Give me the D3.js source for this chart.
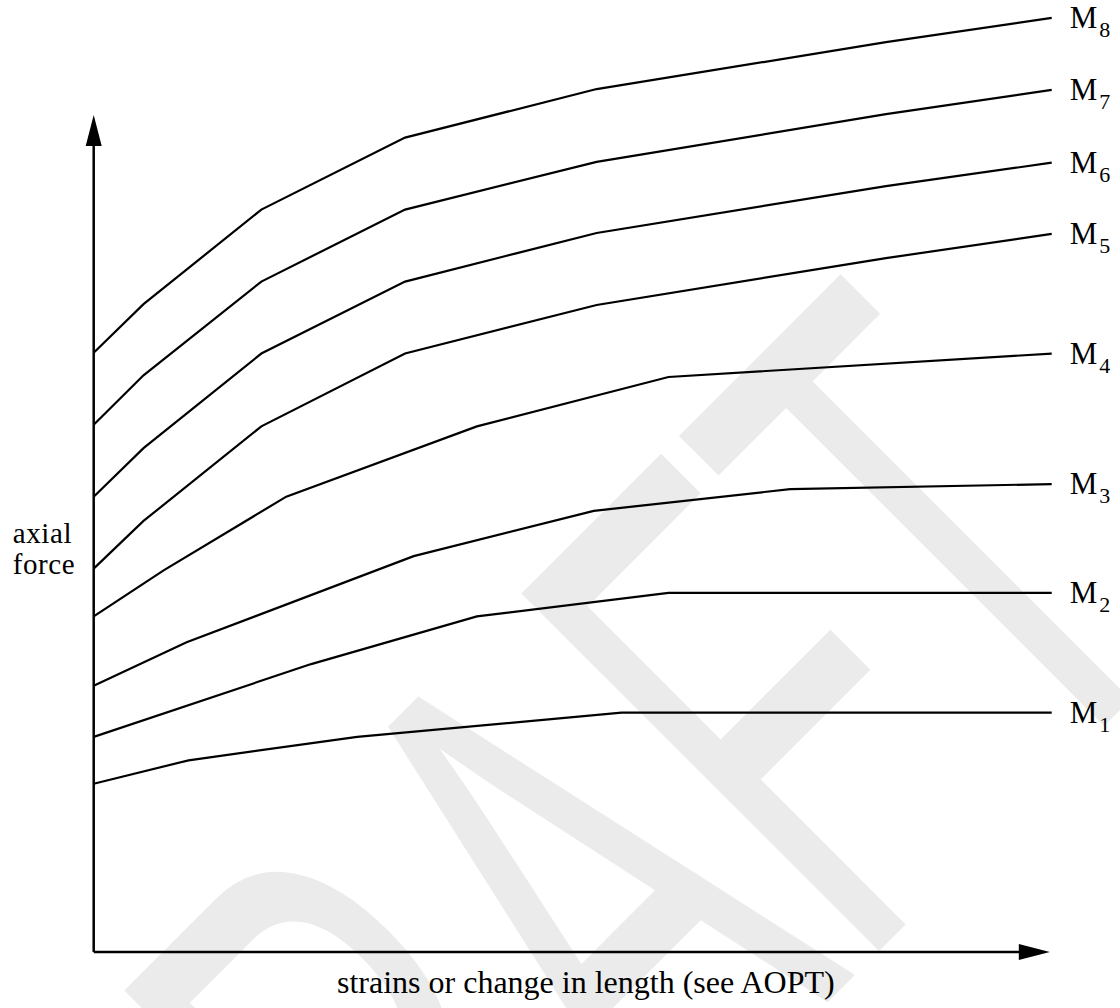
<!DOCTYPE html>
<html>
<head>
<meta charset="utf-8">
<script src="https://cdn.jsdelivr.net/npm/d3@7"></script>
<style>
  html, body { margin: 0; padding: 0; background: #ffffff; }
  svg { display: block; }
</style>
</head>
<body>
<svg id="chart" width="1120" height="1008"></svg>
<script>
// ---------- data ----------
const seriesNames = ["M1", "M2", "M3", "M4", "M5", "M6", "M7", "M8"];
const xM1 = [0, 9.9, 27.5, 55.1, 100];
const yM1 = [20.1, 22.9, 25.7, 28.6, 28.6];
const xM2 = [0, 22.7, 40.0, 60.0, 100];
const yM2 = [25.7, 34.4, 40.1, 42.9, 42.9];
const xM3 = [0, 9.7, 33.4, 52.2, 72.7, 100];
const yM3 = [31.8, 37.0, 47.3, 52.7, 55.3, 55.9];
const xM4 = [0, 7.3, 20.1, 40.0, 60.0, 100];
const yM4 = [40.1, 45.6, 54.4, 62.8, 68.7, 71.5];
const xUpper = [0, 5.2, 17.5, 32.5, 52.5, 82.7, 100];
const yM5 = [45.8, 51.5, 62.8, 71.5, 77.3, 82.9, 85.8];
const yM6 = [54.4, 60.2, 71.5, 80.1, 85.9, 91.5, 94.3];
const yM7 = [63.0, 68.9, 80.1, 88.7, 94.4, 100.1, 103.0];
const yM8 = [71.6, 77.4, 88.7, 97.3, 103.1, 108.7, 111.6];
const xAxisTitle = "strains or change in length (see AOPT)";
const yAxisTitle = ["axial", "force"];
const watermarkText = "DRAFT";

const seriesX = [xM1, xM2, xM3, xM4, xUpper, xUpper, xUpper, xUpper];
const seriesY = [yM1, yM2, yM3, yM4, yM5, yM6, yM7, yM8];

// ---------- layout ----------
const svg = d3.select("#chart");
const x0 = 93.7, x1 = 1051.7, yBase = 952, yTop = 115;
const x = d3.scaleLinear().domain([0, 100]).range([x0, x1]);
const y = d3.scaleLinear().domain([0, 100]).range([yBase, yTop]);
const serif = "'Liberation Serif', 'Times New Roman', serif";

svg.append("rect").attr("width", 1120).attr("height", 1008).attr("fill", "#ffffff");

// watermark
svg.append("text")
  .attr("transform", "translate(252,1578) rotate(-45) scale(0.55,1)")
  .attr("font-family", "'Liberation Sans', Arial, sans-serif")
  .attr("font-size", 735)
  .attr("fill", "#ebebeb")
  .text(watermarkText);

// axes
const axisG = svg.append("g");
axisG.append("line")
  .attr("x1", x(0)).attr("y1", y(0)).attr("x2", x(0)).attr("y2", y(100) + 20)
  .attr("stroke", "#000").attr("stroke-width", 2.5);
axisG.append("line")
  .attr("x1", x(0)).attr("y1", y(0)).attr("x2", x(99.8) - 20).attr("y2", y(0))
  .attr("stroke", "#000").attr("stroke-width", 2.5);
// arrow heads
const tipY = [x(0), y(100)];
axisG.append("path")
  .attr("d", `M${tipY[0]},${tipY[1]} L${tipY[0] - 8},${tipY[1] + 31} L${tipY[0] + 8},${tipY[1] + 31} Z`)
  .attr("fill", "#000");
const tipX = [x(99.8), y(0)];
axisG.append("path")
  .attr("d", `M${tipX[0]},${tipX[1]} L${tipX[0] - 31},${tipX[1] - 8} L${tipX[0] - 31},${tipX[1] + 8} Z`)
  .attr("fill", "#000");

// lines
const line = d3.line().x(d => x(d[0])).y(d => y(d[1]));
const data = seriesNames.map((name, i) => ({
  name,
  pts: seriesX[i].map((xv, j) => [xv, seriesY[i][j]])
}));

svg.append("g").selectAll("path").data(data).join("path")
  .attr("d", d => line(d.pts))
  .attr("fill", "none")
  .attr("stroke", "#000")
  .attr("stroke-width", 2.2)
  .attr("stroke-linejoin", "miter");

// labels
const lab = svg.append("g").selectAll("text").data(data).join("text")
  .attr("x", d => x(d.pts[d.pts.length - 1][0]) + 18)
  .attr("y", d => y(d.pts[d.pts.length - 1][1]) + 10)
  .attr("font-family", serif)
  .attr("font-size", 31)
  .attr("fill", "#000");
lab.append("tspan").text("M");
lab.append("tspan").attr("dx", 2).attr("dy", 9).attr("font-size", 22)
  .text(d => d.name.slice(1));

// axis titles
svg.append("text")
  .attr("x", 337).attr("y", 993)
  .attr("font-family", serif).attr("font-size", 32).attr("fill", "#000")
  .text(xAxisTitle);
svg.append("text")
  .attr("font-family", serif).attr("font-size", 29).attr("fill", "#000")
  .attr("letter-spacing", 0.6)
  .selectAll("tspan").data(yAxisTitle).join("tspan")
  .attr("x", 12.7).attr("y", (d, i) => 543 + i * 31)
  .text(d => d);
</script>
</body>
</html>
